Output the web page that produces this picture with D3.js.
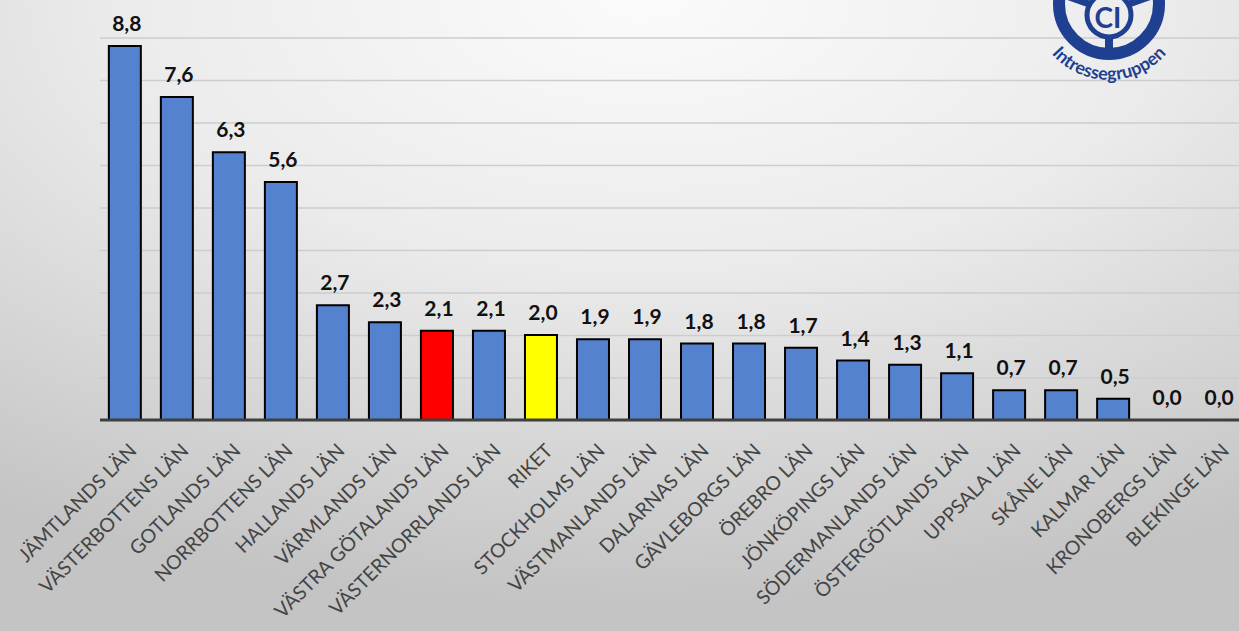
<!DOCTYPE html>
<html>
<head>
<meta charset="utf-8">
<script src="https://cdn.jsdelivr.net/npm/d3@7"></script>
<style>
  html, body { margin: 0; padding: 0; overflow: hidden; }
  svg { display: block; }
</style>
</head>
<body>
<svg id="chart" width="1239" height="631"></svg>
<script>
const categories = ["JÄMTLANDS LÄN", "VÄSTERBOTTENS LÄN", "GOTLANDS LÄN", "NORRBOTTENS LÄN", "HALLANDS LÄN", "VÄRMLANDS LÄN", "VÄSTRA GÖTALANDS LÄN", "VÄSTERNORRLANDS LÄN", "RIKET", "STOCKHOLMS LÄN", "VÄSTMANLANDS LÄN", "DALARNAS LÄN", "GÄVLEBORGS LÄN", "ÖREBRO LÄN", "JÖNKÖPINGS LÄN", "SÖDERMANLANDS LÄN", "ÖSTERGÖTLANDS LÄN", "UPPSALA LÄN", "SKÅNE LÄN", "KALMAR LÄN", "KRONOBERGS LÄN", "BLEKINGE LÄN"];
const values = [8.8, 7.6, 6.3, 5.6, 2.7, 2.3, 2.1, 2.1, 2.0, 1.9, 1.9, 1.8, 1.8, 1.7, 1.4, 1.3, 1.1, 0.7, 0.7, 0.5, 0.0, 0.0];
const gridTicks = [1, 2, 3, 4, 5, 6, 7, 8, 9];
const highlight = { "VÄSTRA GÖTALANDS LÄN": "#ff0000", "RIKET": "#ffff00" };
const logoText = "Intressegruppen";

const W = 1239, H = 631;
const svg = d3.select("#chart");
const defs = svg.append("defs");

const bg = defs.append("radialGradient").attr("id", "bg")
  .attr("cx", "52%").attr("cy", "0%").attr("r", "95%");
bg.append("stop").attr("offset", "0%").attr("stop-color", "#fbfbfb");
bg.append("stop").attr("offset", "45%").attr("stop-color", "#ebebeb");
bg.append("stop").attr("offset", "100%").attr("stop-color", "#c4c4c4");
svg.append("rect").attr("width", W).attr("height", H).attr("fill", "url(#bg)");

const x = d3.scaleBand().domain(categories).range([100, 1242]).paddingInner(0.385).paddingOuter(0.17);
const y = d3.scaleLinear().domain([0, 9]).range([420, 37.5]);

// gridlines
const grid = d3.axisLeft(y).tickValues(gridTicks).tickSize(-(W - 100)).tickFormat("");
svg.append("g").attr("transform", "translate(100,0)").call(grid)
  .call(g => g.select(".domain").remove())
  .call(g => g.selectAll(".tick line").attr("stroke", "#cdcdcd").attr("stroke-width", 1.6));

// bars
svg.append("g").selectAll("rect").data(categories).join("rect")
  .attr("x", d => x(d))
  .attr("width", x.bandwidth())
  .attr("y", (d, i) => y(values[i]))
  .attr("height", (d, i) => y(0) - y(values[i]))
  .attr("fill", d => highlight[d] || "#5582cf")
  .attr("stroke", "#000")
  .attr("stroke-width", 2);

// x axis line + labels
const xAxis = d3.axisBottom(x).tickSize(0).tickPadding(0);
const gx = svg.append("g").attr("transform", `translate(0,${y(0)})`).call(xAxis);
gx.select(".domain").attr("d", `M100,0H${W}`).attr("stroke", "#3f3f3f").attr("stroke-width", 3);
gx.selectAll(".tick text")
  .attr("font-family", "Lato, 'Open Sans', sans-serif")
  .attr("font-size", 19.5)
  .attr("fill", "#444444")
  .attr("text-anchor", "end")
  .attr("dy", null)
  .attr("y", null)
  .attr("transform", "translate(13,32) rotate(-45)");

// value labels
const fmt = d3.formatLocale({ decimal: ",", thousands: " ", grouping: [3], currency: ["", " kr"] }).format(".1f");
svg.append("g").selectAll("text").data(categories).join("text")
  .attr("x", d => x(d) + x.bandwidth() / 2 + 2)
  .attr("y", (d, i) => y(values[i]) - 15)
  .attr("text-anchor", "middle")
  .attr("font-family", "Lato, 'Open Sans', sans-serif")
  .attr("font-weight", "bold")
  .attr("font-size", 21)
  .attr("fill", "#111111")
  .text((d, i) => fmt(values[i]));

// logo
const blue = "#1f3f91";
const cx = 1109, cy = 4;
const logo = svg.append("g").attr("transform", `translate(${cx},${cy})`);
logo.append("circle").attr("r", 50).attr("fill", "none").attr("stroke", blue).attr("stroke-width", 12);
logo.append("circle").attr("cy", 11).attr("r", 22).attr("fill", "none").attr("stroke", blue).attr("stroke-width", 5);
logo.append("rect").attr("x", -4).attr("y", 33).attr("width", 8).attr("height", 15).attr("fill", blue);
logo.append("path").attr("d", "M-48,-10 L-20,0").attr("stroke", blue).attr("stroke-width", 7);
logo.append("path").attr("d", "M48,-10 L20,0").attr("stroke", blue).attr("stroke-width", 7);
logo.append("text").attr("x", -1).attr("y", 24).attr("text-anchor", "middle")
  .attr("font-family", "Lato, sans-serif").attr("font-weight", "bold").attr("font-size", 28)
  .attr("fill", blue).text("CI");
const R = 76, a0 = 160 * Math.PI / 180, a1 = 20 * Math.PI / 180;
defs.append("path").attr("id", "arc")
  .attr("d", `M${cx + R * Math.cos(a0)},${cy + R * Math.sin(a0)} A${R},${R} 0 0,0 ${cx + R * Math.cos(a1)},${cy + R * Math.sin(a1)}`);
svg.append("text").attr("font-family", "Lato, 'Open Sans', sans-serif").attr("font-weight", "bold")
  .attr("font-size", 18).attr("fill", blue)
  .append("textPath").attr("href", "#arc").attr("startOffset", "50%").attr("text-anchor", "middle")
  .text(logoText);
</script>
</body>
</html>
